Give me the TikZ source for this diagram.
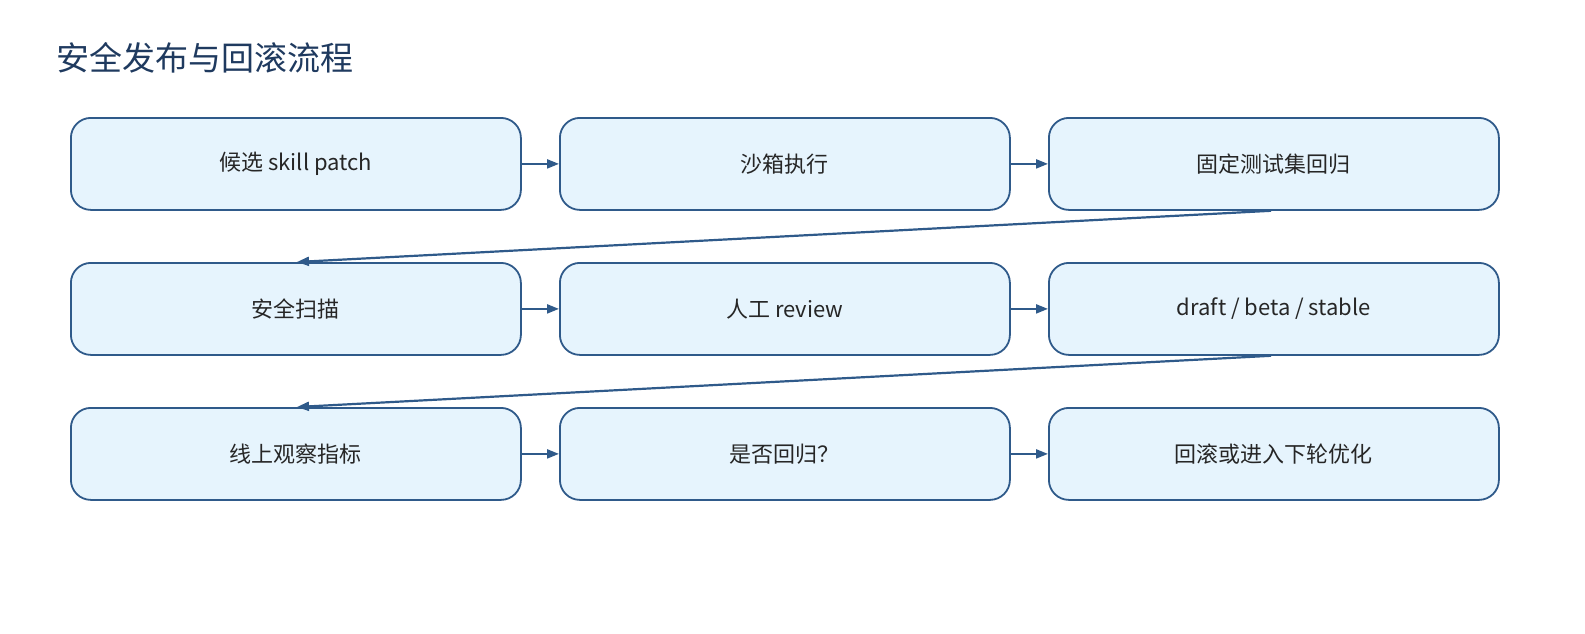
\documentclass[tikz,border=0pt]{standalone}
\usepackage{fontspec}
\setmainfont{Noto Sans CJK SC}
\usetikzlibrary{arrows.meta}
\definecolor{bd}{HTML}{2F5A8A}
\definecolor{fl}{HTML}{E6F4FD}
\definecolor{tt}{HTML}{1F3A5F}
\begin{document}
\begin{tikzpicture}[x=1pt,y=-1pt,
  box/.style={draw=bd,fill=fl,line width=1.8pt,rounded corners=20pt,minimum width=450pt,minimum height=92pt,font=\fontsize{22}{25}\selectfont,text=black!85,anchor=north west,inner sep=0pt},
  arr/.style={draw=bd,line width=2.2pt,-{Triangle[length=12pt,width=9pt]}}]
\node[anchor=west,text=tt,font=\fontsize{33}{36}\selectfont] (title) at (53,58) {安全发布与回滚流程};
\node[box] (a1) at (70,117) {候选 skill patch};
\node[box] (a2) at (559,117) {沙箱执行};
\node[box] (a3) at (1048,117) {固定测试集回归};
\node[box] (b1) at (70,262) {安全扫描};
\node[box] (b2) at (559,262) {人工 review};
\node[box] (b3) at (1048,262) {draft / beta / stable};
\node[box] (c1) at (70,407) {线上观察指标};
\node[box] (c2) at (559,407) {是否回归？};
\node[box] (c3) at (1048,407) {回滚或进入下轮优化};
\foreach \u/\v in {a1/a2,a2/a3,b1/b2,b2/b3,c1/c2,c2/c3}
  \draw[arr] (\u.east) -- (\v.west);
\draw[arr] ([xshift=-1pt]a3.south west) ++(224,0) -- ([xshift=227pt]b1.north west);
\draw[arr] ([xshift=-1pt]b3.south west) ++(224,0) -- ([xshift=227pt]c1.north west);
\pgfresetboundingbox
\path[use as bounding box] (0,0) rectangle (1585,634);
\end{tikzpicture}
\end{document}
